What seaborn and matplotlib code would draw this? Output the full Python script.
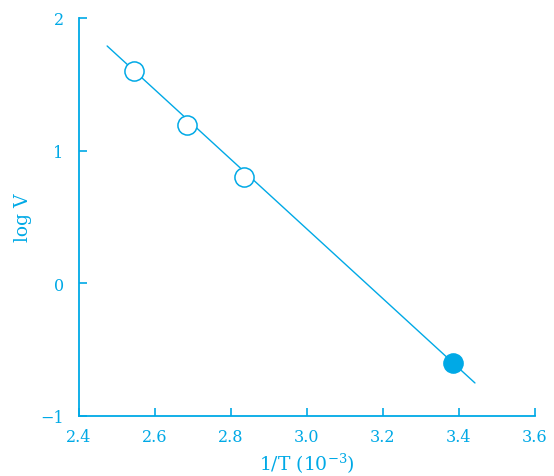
import matplotlib
matplotlib.use("Agg")
import matplotlib.pyplot as plt
import seaborn as sns
import pandas as pd

# Data
open_x = [2.545, 2.685, 2.833]
open_y = [1.60, 1.19, 0.80]
filled_x = [3.385]
filled_y = [-0.60]
fit_x = [2.474, 3.442]
fit_y = [1.789, -0.751]
x_ticks = [2.4, 2.6, 2.8, 3.0, 3.2, 3.4, 3.6]
x_tick_labels = ["2.4", "2.6", "2.8", "3.0", "3.2", "3.4", "3.6"]
y_ticks = [-1, 0, 1, 2]
y_tick_labels = ["\u22121", "0", "1", "2"]

C = "#00a9e6"

sns.set_theme(style="ticks")
plt.rcParams["font.family"] = ["DejaVu Serif"]
plt.rcParams["mathtext.fontset"] = "dejavuserif"

fig = plt.figure(figsize=(5.54, 4.77), dpi=100)
ax = fig.add_axes([0.1426, 0.1258, 0.8231, 0.8344])

sns.lineplot(x=fit_x, y=fit_y, ax=ax, color=C, linewidth=1.0)
sns.scatterplot(x=open_x, y=open_y, ax=ax, s=190, facecolor="white",
                edgecolor=C, linewidth=1.1, zorder=3)
sns.scatterplot(x=filled_x, y=filled_y, ax=ax, s=190, color=C,
                edgecolor=C, linewidth=1.1, zorder=3)

ax.set_xlim(2.4, 3.6)
ax.set_ylim(-1, 2)
ax.set_xticks(x_ticks)
ax.set_xticklabels(x_tick_labels)
ax.set_yticks(y_ticks)
ax.set_yticklabels(y_tick_labels)

for s in ["top", "right"]:
    ax.spines[s].set_visible(False)
for s in ["left", "bottom"]:
    ax.spines[s].set_color(C)
    ax.spines[s].set_linewidth(1.3)

ax.tick_params(axis="both", direction="in", length=6, width=1.2, color=C,
               labelcolor=C, labelsize=11.5)
ax.tick_params(axis="x", pad=9)
ax.tick_params(axis="y", pad=11)

ax.set_xlabel(r"1/T (10$^{-3}$)", color=C, fontsize=13.5, labelpad=4)
ax.set_ylabel("log V", color=C, fontsize=13.5, labelpad=6)

fig.savefig("out.png", dpi=100, facecolor="white")
